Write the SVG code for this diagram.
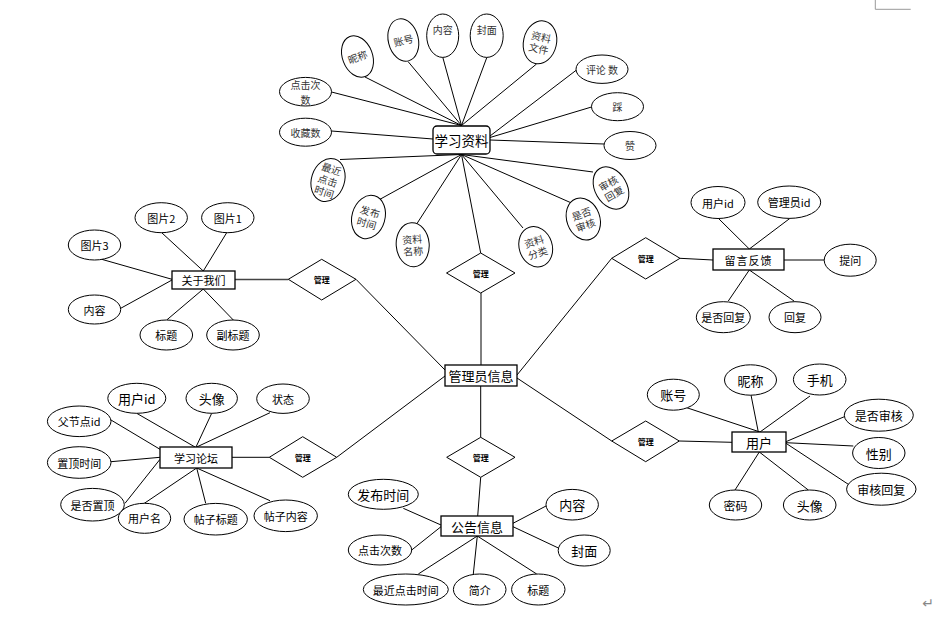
<svg xmlns="http://www.w3.org/2000/svg" width="944" height="620" viewBox="0 0 944 620">
<style>
.bg{fill:#fff}
.c line{stroke:#000;stroke-width:1}
.e{fill:#fff;stroke:#000;stroke-width:1}
.b{fill:#fff;stroke:#000;stroke-width:1.3}
.d{fill:#fff;stroke:#000;stroke-width:1}
text{font-family:"Noto Sans CJK SC","Noto Sans",sans-serif;text-anchor:middle;dominant-baseline:central;fill:#000}
.s{font-size:10px;fill:#333}
.m{font-size:11px}
.l{font-size:13px}
.dl{font-size:8px;font-weight:bold}
</style>
<rect class="bg" width="944" height="620"/>
<g id="connectors" class="c">
<line x1="365" y1="77" x2="461.5" y2="125.5"/>
<line x1="408" y1="61.5" x2="461.5" y2="125.5"/>
<line x1="442.7" y1="57" x2="461.5" y2="125.5"/>
<line x1="487" y1="57" x2="461.5" y2="125.5"/>
<line x1="536.5" y1="64" x2="461.5" y2="125.5"/>
<line x1="331.5" y1="92" x2="461.5" y2="125.5"/>
<line x1="331.5" y1="131" x2="433" y2="139"/>
<line x1="576.5" y1="70" x2="490" y2="136"/>
<line x1="591.5" y1="107" x2="490" y2="137.5"/>
<line x1="604" y1="144" x2="490" y2="140"/>
<line x1="593" y1="172" x2="461.5" y2="154.5"/>
<line x1="571.5" y1="203" x2="461.5" y2="154.5"/>
<line x1="523" y1="228" x2="461.5" y2="154.5"/>
<line x1="480.7" y1="253" x2="461.5" y2="154.5"/>
<line x1="416.7" y1="224" x2="461.5" y2="154.5"/>
<line x1="375" y1="202" x2="461.5" y2="154.5"/>
<line x1="340" y1="159.5" x2="461.5" y2="154.5"/>
<line x1="481" y1="293" x2="481" y2="365"/>
<line x1="356" y1="279.3" x2="445" y2="370"/>
<line x1="336.7" y1="457.3" x2="445" y2="376"/>
<line x1="611.7" y1="258.3" x2="517" y2="375"/>
<line x1="611.7" y1="441" x2="517" y2="378"/>
<line x1="480.7" y1="386" x2="480.7" y2="437.3"/>
<line x1="480.7" y1="477.3" x2="477.7" y2="516"/>
<line x1="235" y1="279.5" x2="288.3" y2="279.5" style="stroke:#444;stroke-width:1.6"/>
<line x1="232" y1="457.3" x2="269.3" y2="457.3"/>
<line x1="680" y1="258.3" x2="713" y2="260"/>
<line x1="679.3" y1="441" x2="732" y2="442.3"/>
<line x1="161.7" y1="232.7" x2="203.3" y2="271"/>
<line x1="226.7" y1="232.7" x2="203.3" y2="271"/>
<line x1="101.7" y1="259.3" x2="172" y2="279.3"/>
<line x1="120.7" y1="308.3" x2="172" y2="280"/>
<line x1="166.7" y1="320" x2="203.3" y2="289"/>
<line x1="233.3" y1="320" x2="203.3" y2="289"/>
<line x1="718.3" y1="218.3" x2="749.3" y2="249"/>
<line x1="790" y1="218.3" x2="749.3" y2="249"/>
<line x1="784" y1="260" x2="824.3" y2="260"/>
<line x1="728.3" y1="301" x2="749.3" y2="270"/>
<line x1="794" y1="301" x2="749.3" y2="270"/>
<line x1="686.7" y1="407.7" x2="760" y2="432"/>
<line x1="751" y1="395" x2="758.3" y2="432"/>
<line x1="810" y1="396" x2="760" y2="432"/>
<line x1="844.3" y1="416.7" x2="786" y2="441.7"/>
<line x1="853.3" y1="446" x2="786" y2="442.7"/>
<line x1="848.3" y1="484.3" x2="786" y2="443.3"/>
<line x1="735" y1="490" x2="759.3" y2="452"/>
<line x1="808.3" y1="490" x2="759.3" y2="452"/>
<line x1="403.3" y1="508.3" x2="441" y2="525"/>
<line x1="411.7" y1="550" x2="441" y2="526.7"/>
<line x1="418.3" y1="574" x2="477.3" y2="536"/>
<line x1="473.3" y1="574" x2="477.3" y2="536"/>
<line x1="536.7" y1="574" x2="477.3" y2="536"/>
<line x1="546" y1="506" x2="513" y2="523.3"/>
<line x1="559" y1="548.3" x2="513" y2="526.7"/>
<line x1="136.7" y1="413.3" x2="195" y2="447"/>
<line x1="211.7" y1="413.3" x2="196" y2="447"/>
<line x1="270" y1="412.7" x2="196.7" y2="447"/>
<line x1="111" y1="420" x2="160" y2="449.3"/>
<line x1="111" y1="461.7" x2="160" y2="457.3"/>
<line x1="125" y1="503.3" x2="160" y2="459.3"/>
<line x1="143.3" y1="504" x2="196.7" y2="468"/>
<line x1="205.7" y1="503.3" x2="196.7" y2="468"/>
<line x1="270" y1="500.7" x2="196.7" y2="468"/>
</g>

<g id="rel-top"><polygon class="d" points="480.7,253 515,273 480.7,293 446.5,273"/><text class="dl" x="480.7" y="273">管理</text></g>
<g id="rel-about"><polygon class="d" points="321.7,259.3 356,279.3 321.7,300 288.3,279.3"/><text class="dl" x="321.7" y="279.5">管理</text></g>
<g id="rel-msg"><polygon class="d" points="645.7,237.7 680,258.3 645.7,279 611.7,258.3"/><text class="dl" x="645.7" y="258.3">管理</text></g>
<g id="rel-forum"><polygon class="d" points="302.7,436.7 336.7,457.3 302.7,477.3 269.3,457.3"/><text class="dl" x="302.7" y="457.3">管理</text></g>
<g id="rel-notice"><polygon class="d" points="480.7,437.3 515,457.3 480.7,477.3 446.7,457.3"/><text class="dl" x="480.7" y="457.3">管理</text></g>
<g id="rel-user"><polygon class="d" points="645.7,421 679.3,441 645.7,461.7 611.7,441"/><text class="dl" x="645.7" y="441">管理</text></g>

<g id="admin"><rect class="b" x="445" y="365" width="72" height="21"/><text class="l" x="481" y="375.5">管理员信息</text></g>

<g id="material"><rect class="b" x="433" y="126" width="57" height="28" rx="4"/><text x="461.5" y="140" style="font-size:13.5px">学习资料</text></g>
<g id="m-nick" transform="translate(357.5,56.5) rotate(-21)"><ellipse class="e" rx="15" ry="21.5"/><text class="s" x="0" y="0">昵称</text></g>
<g id="m-acct" transform="translate(403.3,40) rotate(-14)"><ellipse class="e" rx="15" ry="21.5"/><text class="s" x="0" y="0">账号</text></g>
<g id="m-content" transform="translate(442.7,35.7)"><ellipse class="e" rx="16" ry="21.7"/><text class="s" x="0" y="-6">内容</text></g>
<g id="m-cover" transform="translate(486.7,35.7)"><ellipse class="e" rx="16.5" ry="21.7"/><text class="s" x="0" y="-6">封面</text></g>
<g id="m-file" transform="translate(540,42.3) rotate(13)"><ellipse class="e" rx="16.5" ry="21.7"/><text class="s" x="0" y="-6">资料</text><text class="s" x="0" y="6">文件</text></g>
<g id="m-comment"><ellipse class="e" cx="602" cy="69.2" rx="26" ry="14.2"/><text class="s" x="602" y="69.2">评论 数</text></g>
<g id="m-down"><ellipse class="e" cx="617.5" cy="106.7" rx="26" ry="14"/><text class="s" x="617.5" y="106.7">踩</text></g>
<g id="m-up"><ellipse class="e" cx="630" cy="145.5" rx="26" ry="14"/><text class="s" x="630" y="145.5">赞</text></g>
<g id="m-reviewreply" transform="translate(611,188) rotate(-30)"><ellipse class="e" rx="16" ry="22.5"/><text class="s" x="0" y="-6">审核</text><text class="s" x="0" y="6">回复</text></g>
<g id="m-reviewed" transform="translate(583.3,219) rotate(-20)"><ellipse class="e" rx="16.5" ry="21.5"/><text class="s" x="0" y="-6">是否</text><text class="s" x="0" y="6">审核</text></g>
<g id="m-category" transform="translate(535.7,246.7) rotate(-18)"><ellipse class="e" rx="16.5" ry="20.5"/><text class="s" x="0" y="-6">资料</text><text class="s" x="0" y="6">分类</text></g>
<g id="m-name" transform="translate(412.7,244.7) rotate(-4)"><ellipse class="e" rx="16.5" ry="22"/><text class="s" x="0" y="-6">资料</text><text class="s" x="0" y="6">名称</text></g>
<g id="m-pubtime" transform="translate(368.5,217) rotate(16)"><ellipse class="e" rx="16.5" ry="22"/><text class="s" x="0" y="-6">发布</text><text class="s" x="0" y="6">时间</text></g>
<g id="m-lastclick" transform="translate(328,180) rotate(18)"><ellipse class="e" rx="16.5" ry="22"/><text class="s" x="0" y="-12">最近</text><text class="s" x="0" y="0">点击</text><text class="s" x="0" y="12">时间</text></g>
<g id="m-clicks"><ellipse class="e" cx="305.5" cy="91.7" rx="26" ry="14.3"/><text class="s" x="305.5" y="84.5">点击次</text><text class="s" x="305.5" y="99">数</text></g>
<g id="m-fav"><ellipse class="e" cx="305.5" cy="132.2" rx="26" ry="14"/><text class="s" x="305.5" y="132.2">收藏数</text></g>

<g id="about"><rect class="b" x="172" y="271" width="63" height="18"/><text class="m" x="203.5" y="280">关于我们</text></g>
<g id="a-pic2"><ellipse class="e" cx="161.2" cy="217.7" rx="26.2" ry="15"/><text class="m" x="161.2" y="217.7">图片2</text></g>
<g id="a-pic1"><ellipse class="e" cx="227.8" cy="217.7" rx="26.2" ry="15"/><text class="m" x="227.8" y="217.7">图片1</text></g>
<g id="a-pic3"><ellipse class="e" cx="94.5" cy="245" rx="26.2" ry="15"/><text class="m" x="94.5" y="245">图片3</text></g>
<g id="a-content"><ellipse class="e" cx="94.5" cy="309.5" rx="26.2" ry="14.5"/><text class="m" x="94.5" y="309.5">内容</text></g>
<g id="a-title"><ellipse class="e" cx="166.3" cy="335" rx="26.3" ry="15"/><text class="m" x="166.3" y="335">标题</text></g>
<g id="a-subtitle"><ellipse class="e" cx="233" cy="335" rx="26.3" ry="15"/><text class="m" x="233" y="335">副标题</text></g>

<g id="message"><rect class="b" x="713" y="249" width="71" height="21"/><text class="m" x="748.5" y="259.5" style="letter-spacing:1px">留言反馈</text></g>
<g id="g-uid"><ellipse class="e" cx="718" cy="202.5" rx="27" ry="16"/><text class="m" x="718" y="202.5">用户id</text></g>
<g id="g-aid"><ellipse class="e" cx="789.2" cy="202.2" rx="31.5" ry="16.2"/><text class="m" x="789.2" y="202.2">管理员id</text></g>
<g id="g-ask"><ellipse class="e" cx="850.2" cy="260.2" rx="26" ry="16"/><text class="m" x="850.2" y="260.2">提问</text></g>
<g id="g-replied"><ellipse class="e" cx="723.3" cy="317.2" rx="27" ry="15.5"/><text class="m" x="723.3" y="317.2">是否回复</text></g>
<g id="g-reply"><ellipse class="e" cx="795" cy="317.2" rx="26" ry="15.5"/><text class="m" x="795" y="317.2">回复</text></g>

<g id="user"><rect class="b" x="732" y="432" width="54" height="20"/><text class="l" x="759" y="442">用户</text></g>
<g id="u-acct"><ellipse class="e" cx="673.3" cy="394.7" rx="26" ry="15.5"/><text class="l" x="673.3" y="394.7">账号</text></g>
<g id="u-nick"><ellipse class="e" cx="750.5" cy="380" rx="26" ry="15.2"/><text class="l" x="750.5" y="380">昵称</text></g>
<g id="u-phone"><ellipse class="e" cx="819.7" cy="379.5" rx="26.3" ry="15.5"/><text class="l" x="819.7" y="379.5">手机</text></g>
<g id="u-reviewed"><ellipse class="e" cx="878.8" cy="415.2" rx="34.5" ry="16"/><text class="m" x="878.8" y="415.2" style="font-size:12px">是否审核</text></g>
<g id="u-gender"><ellipse class="e" cx="878.8" cy="453" rx="26.2" ry="15.5"/><text class="l" x="878.8" y="453">性别</text></g>
<g id="u-reviewreply"><ellipse class="e" cx="881.3" cy="489.2" rx="34.7" ry="16"/><text class="m" x="881.3" y="489.2" style="font-size:12px">审核回复</text></g>
<g id="u-pwd"><ellipse class="e" cx="735.5" cy="505" rx="26.2" ry="15"/><text class="m" x="735.5" y="505" style="font-size:12px">密码</text></g>
<g id="u-avatar"><ellipse class="e" cx="809.7" cy="505" rx="26.3" ry="15"/><text class="l" x="809.7" y="505">头像</text></g>

<g id="notice"><rect class="b" x="441" y="516" width="72" height="20"/><text class="l" x="477" y="526">公告信息</text></g>
<g id="n-pubtime"><ellipse class="e" cx="383.3" cy="494.3" rx="35" ry="15"/><text class="l" x="383.3" y="494.3">发布时间</text></g>
<g id="n-clicks"><ellipse class="e" cx="380" cy="550" rx="31.7" ry="15"/><text class="m" x="380" y="550">点击次数</text></g>
<g id="n-lastclick"><ellipse class="e" cx="405.8" cy="589.5" rx="42.5" ry="15.5"/><text class="m" x="405.8" y="589.5">最近点击时间</text></g>
<g id="n-intro"><ellipse class="e" cx="479.7" cy="589.5" rx="26.3" ry="15.5"/><text class="m" x="479.7" y="589.5">简介</text></g>
<g id="n-title"><ellipse class="e" cx="538.3" cy="589.5" rx="26.7" ry="15.5"/><text class="m" x="538.3" y="589.5">标题</text></g>
<g id="n-content"><ellipse class="e" cx="572.2" cy="504.7" rx="26.2" ry="15.3"/><text class="l" x="572.2" y="504.7">内容</text></g>
<g id="n-cover"><ellipse class="e" cx="584.2" cy="550.5" rx="26" ry="15.5"/><text class="l" x="584.2" y="550.5">封面</text></g>

<g id="forum"><rect class="b" x="160" y="447" width="72" height="21"/><text class="m" x="196" y="457.5">学习论坛</text></g>
<g id="f-uid"><ellipse class="e" cx="136.8" cy="398.3" rx="29" ry="15"/><text class="l" x="136.8" y="398.3">用户id</text></g>
<g id="f-avatar"><ellipse class="e" cx="211.7" cy="398.3" rx="25.7" ry="15"/><text class="l" x="211.7" y="398.3">头像</text></g>
<g id="f-status"><ellipse class="e" cx="283" cy="398.7" rx="26.3" ry="14.7"/><text class="m" x="283" y="398.7">状态</text></g>
<g id="f-parent"><ellipse class="e" cx="79.2" cy="421.3" rx="31.8" ry="15.3"/><text class="m" x="79.2" y="421.3">父节点id</text></g>
<g id="f-toptime"><ellipse class="e" cx="79.2" cy="462.5" rx="31.8" ry="15.8"/><text class="m" x="79.2" y="462.5">置顶时间</text></g>
<g id="f-istop"><ellipse class="e" cx="92.5" cy="504.7" rx="31.8" ry="16.3"/><text class="m" x="92.5" y="504.7">是否置顶</text></g>
<g id="f-uname"><ellipse class="e" cx="144.5" cy="518.3" rx="26.2" ry="15"/><text class="m" x="144.5" y="518.3">用户名</text></g>
<g id="f-ptitle"><ellipse class="e" cx="215.7" cy="519.2" rx="31.7" ry="15.8"/><text class="m" x="215.7" y="519.2">帖子标题</text></g>
<g id="f-pcontent"><ellipse class="e" cx="285.7" cy="515.8" rx="31.7" ry="15.8"/><text class="m" x="285.7" y="515.8">帖子内容</text></g>

<g id="page-marks">
<polyline points="875.3,0 875.3,9.3 910.7,9.3" fill="none" stroke="#999" stroke-width="1"/>
<text x="928" y="603" style="font-family:'DejaVu Sans',sans-serif;font-size:14px;fill:#888">↵</text>
</g>
</svg>
